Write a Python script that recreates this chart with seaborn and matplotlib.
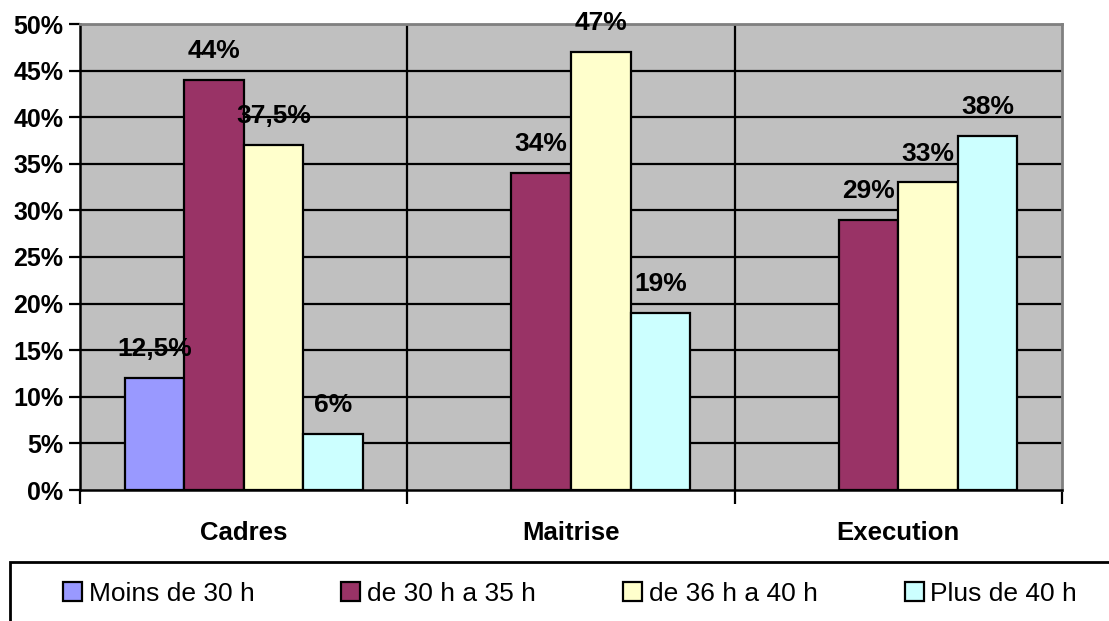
import matplotlib
matplotlib.use("Agg")
import matplotlib.pyplot as plt
from matplotlib.patches import Patch, Rectangle
import numpy as np
import pandas as pd
import seaborn as sns

# --- data ---
categories = ["Cadres", "Maitrise", "Execution"]
series = ["Moins de 30 h", "de 30 h a 35 h", "de 36 h a 40 h", "Plus de 40 h"]
moins_30 = [12, np.nan, np.nan]
de_30_35 = [44, 34, 29]
de_36_40 = [37, 47, 33]
plus_40 = [6, 19, 38]
labels_moins_30 = ["12,5%", "", ""]
labels_30_35 = ["44%", "34%", "29%"]
labels_36_40 = ["37,5%", "47%", "33%"]
labels_plus_40 = ["6%", "19%", "38%"]
y_ticks = [0, 5, 10, 15, 20, 25, 30, 35, 40, 45, 50]

colors = ["#9999FF", "#993366", "#FFFFCC", "#CCFFFF"]

values = [moins_30, de_30_35, de_36_40, plus_40]
labels = [labels_moins_30, labels_30_35, labels_36_40, labels_plus_40]

rows = []
for s, vals in zip(series, values):
    for c, v in zip(categories, vals):
        rows.append({"categorie": c, "duree": s, "valeur": v})
df = pd.DataFrame(rows)

plt.rcParams["font.family"] = ["Liberation Sans", "DejaVu Sans"]

fig = plt.figure(figsize=(11.09, 6.21), dpi=100)
ax = fig.add_axes([80 / 1109, 1 - 490 / 621, (1062 - 80) / 1109, (490 - 24) / 621])
ax.set_facecolor("#C0C0C0")

# grid first so bars sit on top
for t in y_ticks[1:]:
    ax.axhline(t, color="black", lw=1.6, zorder=0.5)
for xb in (0.5, 1.5):
    ax.axvline(xb, color="black", lw=1.6, zorder=0.5)

sns.barplot(
    data=df, x="categorie", y="valeur", hue="duree",
    order=categories, hue_order=series, palette=colors,
    width=0.728, gap=0, errorbar=None, edgecolor="black",
    linewidth=1.6, saturation=1, legend=False, ax=ax, zorder=2,
)

for container, lbls, vals in zip(ax.containers, labels, values):
    kept = [l for l, v in zip(lbls, vals) if not np.isnan(v)]
    ax.bar_label(container, labels=kept, padding=12, fontsize=19,
                 fontweight="bold")

ax.set_ylim(0, 50)
ax.set_xlim(-0.5, 2.5)
ax.set_yticks(y_ticks)
ax.set_yticklabels([f"{t}%" for t in y_ticks])
ax.set_xticks([0, 1, 2])
ax.set_xticks([-0.5, 0.5, 1.5, 2.5], minor=True)
ax.tick_params(axis="y", length=8, width=1.6, pad=4, labelsize=18)
ax.tick_params(axis="x", which="major", length=0, pad=22, labelsize=18.5)
ax.tick_params(axis="x", which="minor", length=10, width=1.6)
for lab in ax.get_yticklabels() + ax.get_xticklabels():
    lab.set_fontweight("bold")
ax.set_xlabel("")
ax.set_ylabel("")

for side in ("left", "bottom"):
    ax.spines[side].set_color("black")
    ax.spines[side].set_linewidth(1.8)
for side in ("top", "right"):
    ax.spines[side].set_color("#808080")
    ax.spines[side].set_linewidth(2)

# legend box runs off the bottom/right edge like the original
fig.add_artist(Rectangle((10 / 1109, -0.05), 1.1, (621 - 562) / 621 + 0.05,
                         transform=fig.transFigure, fill=False,
                         edgecolor="black", lw=2, clip_on=False))
handles = [Patch(facecolor=c, edgecolor="black", lw=1.6) for c in colors]
fig.legend(handles, series, loc="center left",
           bbox_to_anchor=(63 / 1109, 1 - 594 / 621), ncol=4, frameon=False,
           fontsize=19, handlelength=0.72, handleheight=0.72,
           handletextpad=0.25, columnspacing=3.3, borderpad=0,
           borderaxespad=0)

fig.savefig("out.png", dpi=100)
